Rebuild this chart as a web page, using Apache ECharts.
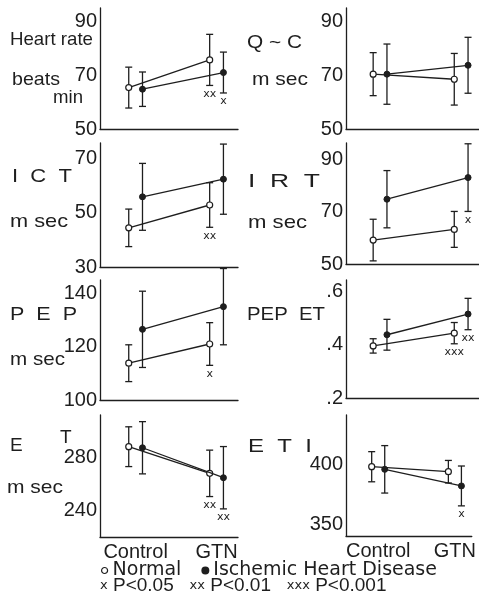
<!DOCTYPE html>
<html><head><meta charset="utf-8">
<script src="https://cdn.jsdelivr.net/npm/echarts@6/dist/echarts.min.js"></script>
<style>html,body{margin:0;padding:0;background:#fff}#c{width:479px;height:615px}</style>
</head><body><div id="c"></div>
<script>
// ---------- data ----------
const categories = ['Control', 'GTN'];

// Heart rate (beats/min)
const hrNormal = [65.4, 75.7], hrNormalSD = [7.6, 9.5];
const hrIHD = [64.8, 71.0], hrIHDSD = [6.4, 7.6];
const hrSigNormal = ['', 'xx'], hrSigIHD = ['', 'x'];
const hrTicks = [50, 70, 90];

// Q ~ C (msec)
const qcNormal = [70.4, 68.5], qcNormalSD = [8.0, 9.6];
const qcIHD = [70.4, 73.7], qcIHDSD = [11.2, 10.4];
const qcSigNormal = ['', ''], qcSigIHD = ['', ''];
const qcTicks = [50, 70, 90];

// ICT (msec)
const ictNormal = [44.4, 52.8], ictNormalSD = [6.9, 8.2];
const ictIHD = [55.8, 62.3], ictIHDSD = [12.3, 12.9];
const ictSigNormal = ['', 'xx'], ictSigIHD = ['', ''];
const ictTicks = [30, 50, 70];

// IRT (msec)
const irtNormal = [59.2, 63.3], irtNormalSD = [8.0, 6.9];
const irtIHD = [74.9, 83.2], irtIHDSD = [11.0, 13.0];
const irtSigNormal = ['', ''], irtSigIHD = ['', 'x'];
const irtTicks = [50, 70, 90];

// PEP (msec)
const pepNormal = [113.8, 121.0], pepNormalSD = [6.9, 8.0];
const pepIHD = [126.5, 135.0], pepIHDSD = [14.3, 14.3];
const pepSigNormal = ['', 'x'], pepSigIHD = ['', ''];
const pepTicks = [100, 120, 140];

// PEP / ET
const pepetNormal = [0.396, 0.444], pepetNormalSD = [0.027, 0.040];
const pepetIHD = [0.438, 0.516], pepetIHDSD = [0.058, 0.059];
const pepetSigNormal = ['', 'xxx'], pepetSigIHD = ['', 'xx'];
const pepetTicks = [0.2, 0.4, 0.6];

// ET (msec)
const etNormal = [288.1, 268.0], etNormalSD = [15.0, 17.5];
const etIHD = [287.3, 264.7], etIHDSD = [19.7, 23.5];
const etSigNormal = ['', 'xx'], etSigIHD = ['', 'xx'];
const etTicks = [240, 280];

// ETI
const etiNormal = [398.4, 394.2], etiNormalSD = [12.7, 9.5];
const etiIHD = [396.2, 382.2], etiIHDSD = [20.0, 16.8];
const etiSigNormal = ['', ''], etiSigIHD = ['', 'x'];
const etiTicks = [350, 400];

// ---------- layout ----------
const INK = '#1e1e1e';
const NUM_FONT = '"Liberation Sans", Arial, sans-serif';
const TXT_FONT = '"Liberation Sans", Arial, sans-serif';
const OFF = 0.085;

const panels = [
  {n: hrNormal, ns: hrNormalSD, i: hrIHD, is: hrIHDSD, sn: hrSigNormal, si: hrSigIHD, ticks: hrTicks,
   col: 0, top: 8, bottom: 129, min: 50, max: 95, interval: 20},
  {n: qcNormal, ns: qcNormalSD, i: qcIHD, is: qcIHDSD, sn: qcSigNormal, si: qcSigIHD, ticks: qcTicks,
   col: 1, top: 8, bottom: 129, min: 50, max: 95, interval: 20},
  {n: ictNormal, ns: ictNormalSD, i: ictIHD, is: ictIHDSD, sn: ictSigNormal, si: ictSigIHD, ticks: ictTicks,
   col: 0, top: 143, bottom: 267, min: 30, max: 75.6, interval: 20},
  {n: irtNormal, ns: irtNormalSD, i: irtIHD, is: irtIHDSD, sn: irtSigNormal, si: irtSigIHD, ticks: irtTicks,
   col: 1, top: 143, bottom: 264, min: 50, max: 96.5, interval: 20},
  {n: pepNormal, ns: pepNormalSD, i: pepIHD, is: pepIHDSD, sn: pepSigNormal, si: pepSigIHD, ticks: pepTicks,
   col: 0, top: 280, bottom: 400, min: 100, max: 145, interval: 20},
  {n: pepetNormal, ns: pepetNormalSD, i: pepetIHD, is: pepetIHDSD, sn: pepetSigNormal, si: pepetSigIHD, ticks: pepetTicks,
   col: 1, top: 280, bottom: 398, min: 0.2, max: 0.644, interval: 0.2, frac: true},
  {n: etNormal, ns: etNormalSD, i: etIHD, is: etIHDSD, sn: etSigNormal, si: etSigIHD, ticks: etTicks,
   col: 0, top: 415, bottom: 537, min: 220, max: 312, interval: 20, last: true},
  {n: etiNormal, ns: etiNormalSD, i: etiIHD, is: etiIHDSD, sn: etiSigNormal, si: etiSigIHD, ticks: etiTicks,
   col: 1, top: 415, bottom: 536, min: 340, max: 442, interval: 10, last: true}
];
const cols = [
  {left: 100, width: 138, min: 0.56, max: 2.265},
  {left: 346, width: 134, min: 0.58, max: 2.22}
];

function errRender(sigs) {
  return function (params, api) {
    const x = api.value(0), lo = api.value(1), hi = api.value(2);
    const a = api.coord([x, lo]), b = api.coord([x, hi]);
    const cap = 3.5;
    const st = {stroke: INK, lineWidth: 1.3};
    const ch = [
      {type: 'line', shape: {x1: a[0], y1: a[1], x2: b[0], y2: b[1]}, style: st},
      {type: 'line', shape: {x1: a[0] - cap, y1: a[1], x2: a[0] + cap, y2: a[1]}, style: st},
      {type: 'line', shape: {x1: b[0] - cap, y1: b[1], x2: b[0] + cap, y2: b[1]}, style: st}
    ];
    const s = sigs[params.dataIndex];
    if (s) ch.push({type: 'text', x: a[0], y: a[1] + 3,
      style: {text: s, font: '11px "DejaVu Sans", sans-serif', fill: INK, align: 'center', verticalAlign: 'top'}});
    return {type: 'group', children: ch};
  };
}

const grid = [], xAxis = [], yAxis = [], series = [];
panels.forEach((p, k) => {
  const c = cols[p.col];
  grid.push({left: c.left, width: c.width, top: p.top, height: p.bottom - p.top});
  xAxis.push({
    type: 'value', gridIndex: k, min: c.min, max: c.max, interval: 0.02,
    axisLine: {show: true, onZero: false, lineStyle: {color: INK, width: 1.3}},
    axisTick: {show: false}, splitLine: {show: false},
    axisLabel: {
      show: !!p.last, margin: 5, fontSize: 20, fontFamily: NUM_FONT, color: INK,
      showMinLabel: false, showMaxLabel: false,
      formatter: v => {
        for (let j = 0; j < categories.length; j++) if (Math.abs(v - (j + 1)) < 1e-6) return categories[j];
        return '';
      }
    }
  });
  yAxis.push({
    type: 'value', gridIndex: k, min: p.min, max: p.max, interval: p.interval,
    axisLine: {show: true, onZero: false, lineStyle: {color: INK, width: 1.3}},
    axisTick: {show: false}, splitLine: {show: false},
    axisLabel: {
      margin: 3, fontSize: 20, fontFamily: NUM_FONT, color: INK, showMaxLabel: false,
      formatter: v => {
        const t = p.ticks.find(q => Math.abs(q - v) < 1e-6);
        if (t === undefined) return '';
        return p.frac ? t.toFixed(1).replace(/^0/, '') : String(t);
      }
    }
  });
  const nPts = p.n.map((v, j) => [j + 1 - OFF, v]);
  const iPts = p.i.map((v, j) => [j + 1 + OFF, v]);
  const nErr = p.n.map((v, j) => [j + 1 - OFF, v - p.ns[j], v + p.ns[j]]);
  const iErr = p.i.map((v, j) => [j + 1 + OFF, v - p.is[j], v + p.is[j]]);
  series.push(
    {type: 'custom', xAxisIndex: k, yAxisIndex: k, data: nErr, renderItem: errRender(p.sn), clip: false, z: 1, silent: true},
    {type: 'custom', xAxisIndex: k, yAxisIndex: k, data: iErr, renderItem: errRender(p.si), clip: false, z: 1, silent: true},
    {name: 'Normal', type: 'line', xAxisIndex: k, yAxisIndex: k, data: nPts, symbol: 'circle', symbolSize: 6,
     lineStyle: {color: INK, width: 1.3}, itemStyle: {color: '#fff', borderColor: INK, borderWidth: 1.2},
     z: 3, silent: true, animation: false},
    {name: 'Ischemic Heart Disease', type: 'line', xAxisIndex: k, yAxisIndex: k, data: iPts, symbol: 'circle', symbolSize: 6,
     lineStyle: {color: INK, width: 1.3}, itemStyle: {color: INK, borderColor: INK, borderWidth: 1},
     z: 4, silent: true, animation: false}
  );
});

// text labels (y-axis names)
const mctx = document.createElement('canvas').getContext('2d');
function txt(text, x, cy, size, width, family) {
  const fam = family || TXT_FONT;
  const font = size + 'px ' + fam;
  mctx.font = font;
  const w = mctx.measureText(text).width;
  return {type: 'text', x: x, y: cy, scaleX: width ? width / w : 1,
    style: {text: text, font: font, fill: INK, align: 'left', verticalAlign: 'middle'}};
}
const graphic = [
  txt('Heart rate', 10, 40, 19, 83),
  txt('beats', 12, 80, 19, 48),
  txt('min', 53, 98, 19, 30),
  txt('Q ~ C', 247, 43, 19, 55),
  txt('m sec', 252, 80, 19, 56),
  txt('I  C  T', 12, 177, 19, 60),
  txt('m sec', 10, 222, 19, 58),
  txt('I  R  T', 248, 182, 19, 72),
  txt('m sec', 248, 223, 19, 59),
  txt('P  E  P', 10, 315, 19, 67),
  txt('m sec', 10, 360, 19, 55),
  txt('PEP  ET', 247, 315, 19, 78),
  txt('E', 10, 446, 19),
  txt('T', 60, 438, 19),
  txt('m sec', 7, 488, 19, 56),
  txt('E  T  I', 248, 447, 19, 64),
  {type: 'text', x: 100, y: 586, style: {
    text: '{s|x} P<0.05   {s|xx} P<0.01   {s|xxx} P<0.001',
    font: '19px ' + TXT_FONT, fill: INK, verticalAlign: 'middle',
    rich: {s: {fontSize: 13, fontFamily: 'DejaVu Sans', fill: INK}}
  }}
];

const chart = echarts.init(document.getElementById('c'), null, {renderer: 'canvas'});
chart.setOption({
  backgroundColor: '#fff',
  animation: false,
  grid, xAxis, yAxis, series, graphic,
  legend: {
    left: 96, top: 556, itemWidth: 6, itemHeight: 6, itemGap: 20, selectedMode: false,
    textStyle: {fontFamily: '"DejaVu Sans", sans-serif', fontSize: 19, color: INK},
    data: [
      {name: 'Normal', icon: 'circle', itemStyle: {color: '#fff', borderColor: INK, borderWidth: 1.2}},
      {name: 'Ischemic Heart Disease', icon: 'circle', itemStyle: {color: INK, borderColor: INK}}
    ]
  }
});
</script></body></html>
